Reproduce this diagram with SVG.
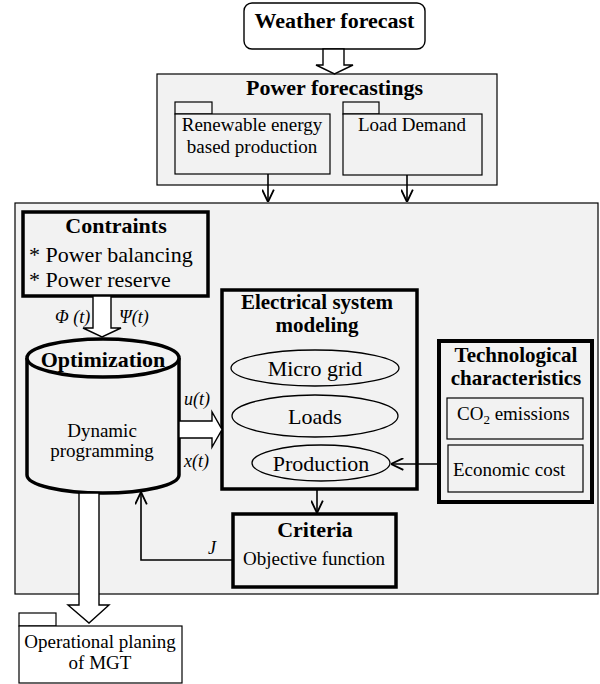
<svg xmlns="http://www.w3.org/2000/svg" width="600" height="684" viewBox="0 0 600 684">
<style>
.b{font-weight:bold;font-size:22px}
.b2{font-weight:bold;font-size:21px}
.r{font-size:19px}
.r22{font-size:22px}
.i{font-style:italic;font-size:18px}
.c{text-anchor:middle}
.thin{fill:#f2f2f2;stroke:#000;stroke-width:1.2}
.thick{fill:#f2f2f2;stroke:#000;stroke-width:3.5}
.hollow{fill:#fff;stroke:#000;stroke-width:1.4}
.line{fill:none;stroke:#000;stroke-width:1.6}
</style>
<defs>
<marker id="open" viewBox="0 0 10 10" refX="10" refY="5" markerWidth="13" markerHeight="13" markerUnits="userSpaceOnUse" orient="auto">
<path d="M0.5,0.5 L10,5 L0.5,9.5" fill="none" stroke="#000" stroke-width="1.4"/>
</marker>
</defs>

<g id="weather">
<rect x="244" y="3" width="181" height="46" rx="8" fill="#fff" stroke="#000" stroke-width="1.4"/>
<text font-family="'Liberation Serif'" class="b c" x="334.5" y="28">Weather forecast</text>
</g>

<g id="power-forecastings">
<rect class="thin" x="157" y="74" width="340" height="111"/>
<text font-family="'Liberation Serif'" class="b c" x="334.5" y="95">Power forecastings</text>
</g>
<g id="renewable">
<rect class="thin" x="175" y="102" width="37" height="12"/>
<rect class="thin" x="175" y="114" width="155" height="60"/>
<text font-family="'Liberation Serif'" font-size="19" text-anchor="middle" x="252" y="131">Renewable energy</text>
<text font-family="'Liberation Serif'" font-size="19" text-anchor="middle" x="252" y="153">based production</text>
</g>
<g id="load-demand">
<rect class="thin" x="343" y="102" width="36" height="12"/>
<rect class="thin" x="343" y="114" width="139" height="61"/>
<text font-family="'Liberation Serif'" font-size="19" text-anchor="middle" x="412" y="131">Load Demand</text>
</g>

<g id="system">
<rect class="thin" x="15" y="203" width="583" height="391"/>
</g>

<g id="contraints">
<rect class="thick" x="23" y="212" width="185" height="84"/>
<text font-family="'Liberation Serif'" class="b c" x="116" y="233">Contraints</text>
<text font-family="'Liberation Serif'" font-size="22" x="29" y="262">* Power balancing</text>
<text font-family="'Liberation Serif'" font-size="22" x="29" y="287">* Power reserve</text>
</g>

<g id="optimization">
<path d="M27,358 L27,475 A76,18 0 0,0 179,475 L179,358" fill="#f2f2f2" stroke="#000" stroke-width="3.5"/>
<ellipse cx="103" cy="358" rx="76" ry="19" fill="#f2f2f2" stroke="#000" stroke-width="3.5"/>
<text font-family="'Liberation Serif'" class="b c" x="103" y="367">Optimization</text>
<text font-family="'Liberation Serif'" font-size="19" text-anchor="middle" x="102" y="437">Dynamic</text>
<text font-family="'Liberation Serif'" font-size="19" text-anchor="middle" x="102" y="457">programming</text>
</g>

<g id="electrical">
<rect class="thick" x="222" y="290" width="195" height="199"/>
<text font-family="'Liberation Serif'" class="b2 c" x="317" y="309">Electrical system</text>
<text font-family="'Liberation Serif'" class="b2 c" x="317" y="332">modeling</text>
<ellipse cx="315" cy="368" rx="84" ry="18" fill="none" stroke="#000" stroke-width="1.3"/>
<text font-family="'Liberation Serif'" font-size="22" text-anchor="middle" x="315" y="376">Micro grid</text>
<ellipse cx="315" cy="416" rx="83" ry="21" fill="none" stroke="#000" stroke-width="1.3"/>
<text font-family="'Liberation Serif'" font-size="22" text-anchor="middle" x="315" y="424">Loads</text>
<ellipse cx="321" cy="463" rx="69" ry="18" fill="none" stroke="#000" stroke-width="1.3"/>
<text font-family="'Liberation Serif'" font-size="22" text-anchor="middle" x="321" y="471">Production</text>
</g>

<g id="technological">
<rect x="439" y="341" width="153" height="161" fill="#f2f2f2" stroke="#000" stroke-width="4"/>
<text font-family="'Liberation Serif'" class="b2 c" x="516" y="362">Technological</text>
<text font-family="'Liberation Serif'" class="b2 c" x="516" y="385">characteristics</text>
<rect class="thin" x="447" y="398" width="136" height="41"/>
<text font-family="'Liberation Serif'" font-size="19" x="457" y="420">CO<tspan font-size="13" dy="4">2</tspan><tspan dy="-4"> emissions</tspan></text>
<rect class="thin" x="448" y="445" width="135" height="47"/>
<text font-family="'Liberation Serif'" font-size="19" x="453" y="476">Economic cost</text>
</g>

<g id="criteria">
<rect class="thick" x="233" y="514" width="163" height="73"/>
<text font-family="'Liberation Serif'" class="b c" x="315" y="537">Criteria</text>
<text font-family="'Liberation Serif'" font-size="19" text-anchor="middle" x="314" y="565">Objective function</text>
</g>

<g id="operational">
<rect x="19" y="613" width="37" height="13" fill="#fff" stroke="#000" stroke-width="1.2"/>
<rect x="19" y="626" width="163" height="57" fill="#fff" stroke="#000" stroke-width="1.2"/>
<text font-family="'Liberation Serif'" font-size="19" text-anchor="middle" x="100" y="648">Operational planing</text>
<text font-family="'Liberation Serif'" font-size="19" text-anchor="middle" x="100" y="669">of MGT</text>
</g>

<g id="connectors">
<polygon class="hollow" points="323,49 344,49 344,65 353,65 334.5,74 316,65 323,65"/>
<line class="line" x1="268" y1="174" x2="268" y2="202" marker-end="url(#open)"/>
<line class="line" x1="407" y1="175" x2="407" y2="202" marker-end="url(#open)"/>
<polygon class="hollow" points="93,296 111,296 111,328 121,328 102,337 83,328 93,328"/>
<text font-family="'Liberation Serif'" class="i" x="55" y="323">Φ (t)</text>
<text font-family="'Liberation Serif'" class="i" x="119" y="323">Ψ(t)</text>
<polygon class="hollow" points="179,421 212,421 212,412 222,429.5 212,447 212,438 179,438"/>
<text font-family="'Liberation Serif'" class="i" x="184" y="405">u(t)</text>
<text font-family="'Liberation Serif'" class="i" x="184" y="467">x(t)</text>
<line class="line" x1="439" y1="464" x2="391" y2="464" marker-end="url(#open)"/>
<line class="line" x1="317" y1="489" x2="317" y2="513" marker-end="url(#open)"/>
<polyline class="line" points="233,560 141,560 141,492" marker-end="url(#open)"/>
<text font-family="'Liberation Serif'" class="i" x="208" y="554">J</text>
<polygon class="hollow" points="79,493 99,493 99,605 109,605 89,623 68,605 79,605"/>
</g>
</svg>
